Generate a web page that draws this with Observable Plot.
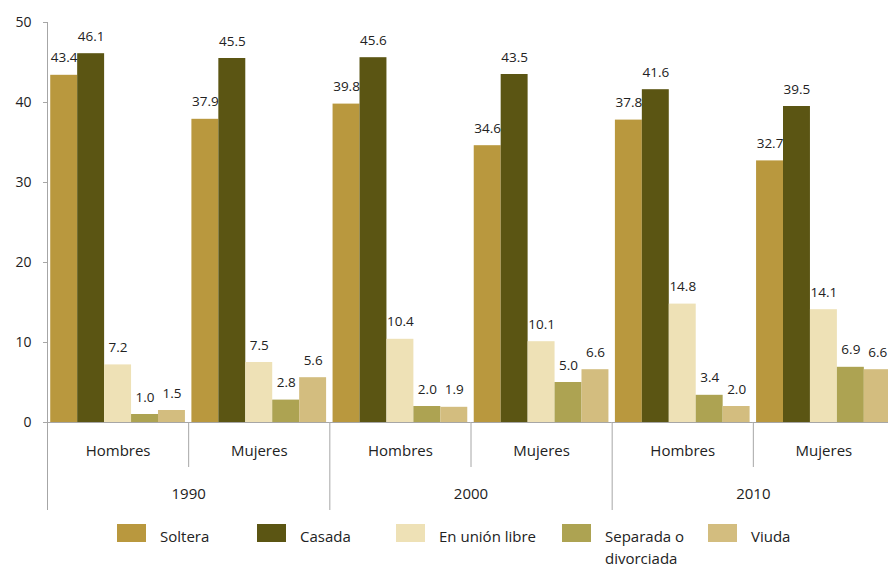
<!DOCTYPE html>
<html>
<head>
<meta charset="utf-8">
<script src="https://cdn.jsdelivr.net/npm/d3@7"></script>
<script src="https://cdn.jsdelivr.net/npm/@observablehq/plot@0.6"></script>
<style>
  body { margin: 0; background: #fff; }
  #chart { position: relative; width: 888px; height: 568px; overflow: hidden; font-family: "Open Sans", sans-serif; }
  #chart svg { position: absolute; left: 0; top: 0; }
  .item { position: absolute; top: 524px; display: flex; align-items: flex-start; }
  .sw { width: 29px; height: 18px; flex: none; }
  .lab { margin-left: 14px; margin-top: 1px; font-size: 15px; line-height: 22px; color: #222; max-width: 110px; }
</style>
</head>
<body>
<div id="chart"></div>
<script>
// Population by marital status (%), by year and sex
const years = ["1990", "2000", "2010"];
const sexes = ["Hombres", "Mujeres"];
const statuses = ["Soltera", "Casada", "En unión libre", "Separada o divorciada", "Viuda"];
const colors = ["#b9983e", "#5b5513", "#eee1b6", "#ada352", "#d3bd7f"];

// one value per group, in order 1990 H, 1990 M, 2000 H, 2000 M, 2010 H, 2010 M
const soltera    = [43.4, 37.9, 39.8, 34.6, 37.8, 32.7];
const casada     = [46.1, 45.5, 45.6, 43.5, 41.6, 39.5];
const unionLibre = [7.2, 7.5, 10.4, 10.1, 14.8, 14.1];
const separada   = [1.0, 2.8, 2.0, 5.0, 3.4, 6.9];
const viuda      = [1.5, 5.6, 1.9, 6.6, 2.0, 6.6];
const yTicks = [0, 10, 20, 30, 40, 50];

const series = [soltera, casada, unionLibre, separada, viuda];

const groups = years.flatMap(year => sexes.map(sex => ({key: `${year} ${sex}`, year, sex})));
const rows = groups.flatMap((g, gi) =>
  statuses.map((status, k) => ({group: g.key, status, value: series[k][gi]}))
);

// layout
const width = 888, height = 515;
const marginLeft = 47, marginRight = -6, marginTop = 22, marginBottom = 93;
const outer = 0.12;
const facetWidth = (width - marginLeft - marginRight) / groups.length;
const band = facetWidth / (statuses.length + 2 * outer);
const edgeShift = -(band / 2 + outer * band); // from first band's centre to the facet edge

const axisGray = "#a6a6a6";
const ink = "#222";

const chart = Plot.plot({
  width, height, marginLeft, marginRight, marginTop, marginBottom,
  style: {fontFamily: "'Open Sans', sans-serif", fontSize: "14px", color: ink, background: "white", overflow: "hidden"},
  fx: {domain: groups.map(g => g.key), padding: 0, round: false, axis: null, label: null},
  x: {domain: statuses, paddingInner: 0, paddingOuter: outer, round: false, axis: null},
  y: {domain: [0, 50], label: null},
  color: {domain: statuses, range: colors},
  marks: [
    Plot.barY(rows, {fx: "group", x: "status", y: "value", fill: "status"}),
    Plot.text(rows, {
      fx: "group", x: "status", y: "value",
      text: d => d.value.toFixed(1),
      lineAnchor: "bottom", dy: -13, fontSize: 13.5, fill: ink
    }),
    Plot.axisY(yTicks, {
      tickSize: 4, tickPadding: 12, stroke: axisGray, fill: ink, fontSize: 14,
      tickFormat: d => d, label: null
    }),
    Plot.ruleY([0], {stroke: axisGray}),
    // value axis line, running down through the category rows
    Plot.ruleX(groups.slice(0, 1), {fx: "key", x: () => statuses[0], dx: edgeShift, y1: 50, y2: 0, insetBottom: -88, stroke: axisGray}),
    // year separators
    Plot.ruleX(groups.filter(g => g.sex === "Hombres").slice(1), {fx: "key", x: () => statuses[0], dx: edgeShift, y1: 0, y2: 0, insetBottom: -88, stroke: axisGray}),
    // sex separators
    Plot.ruleX(groups.filter(g => g.sex === "Mujeres"), {fx: "key", x: () => statuses[0], dx: edgeShift, y1: 0, y2: 0, insetBottom: -45, stroke: axisGray}),
    // category labels
    Plot.text(groups, {fx: "key", text: "sex", frameAnchor: "bottom", lineAnchor: "middle", dy: 28.5, fontSize: 15, fill: ink}),
    Plot.text(groups.filter(g => g.sex === "Hombres"), {fx: "key", text: "year", frameAnchor: "bottom-right", textAnchor: "middle", lineAnchor: "middle", dy: 72, fontSize: 15, fill: ink})
  ]
});

const root = document.getElementById("chart");
root.append(chart);

// legend below the plot
const legendLeft = [117, 257, 396, 562, 708];
statuses.forEach((s, i) => {
  const item = document.createElement("div");
  item.className = "item";
  item.style.left = legendLeft[i] + "px";
  const sw = document.createElement("div");
  sw.className = "sw";
  sw.style.background = colors[i];
  const lab = document.createElement("div");
  lab.className = "lab";
  lab.textContent = s;
  item.append(sw, lab);
  root.append(item);
});
</script>
</body>
</html>
